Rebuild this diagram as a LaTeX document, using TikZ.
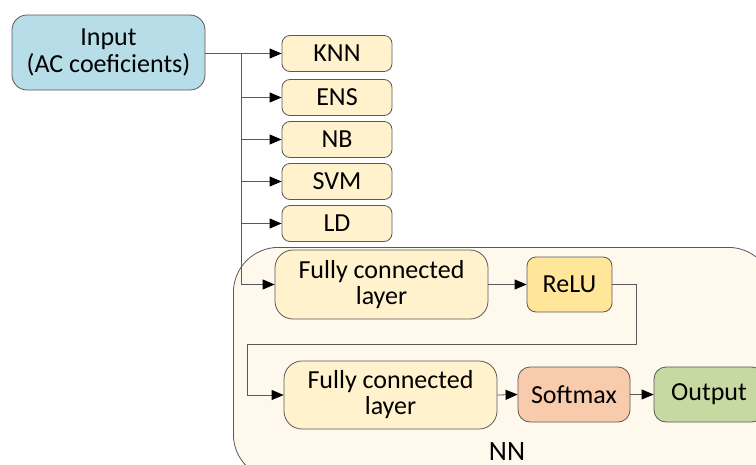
\documentclass[tikz,border=0pt]{standalone}
\usepackage{fontspec}
\setmainfont{Carlito}
\usetikzlibrary{arrows.meta}
\definecolor{inblue}{HTML}{B7DDE8}
\definecolor{clsfill}{HTML}{FFF2CC}
\definecolor{relufill}{HTML}{FFE699}
\definecolor{softfill}{HTML}{F8CBAD}
\definecolor{outfill}{HTML}{C5D9A0}
\definecolor{nnfill}{HTML}{FFF8EC}
\definecolor{edgegray}{HTML}{595959}
\tikzset{
  box/.style={draw=edgegray, line width=0.8pt, inner sep=0pt, align=center,
    font=\fontsize{26}{31}\selectfont, text=black},
  cls/.style={box, fill=clsfill, rounded corners=8pt, minimum width=110pt, minimum height=36pt},
  conn/.style={draw=edgegray, line width=0.8pt},
  arr/.style={conn, -{Triangle[length=12pt,width=10pt,fill=black,color=black]}},
}
\begin{document}
\begin{tikzpicture}[x=1pt,y=-1pt]
\useasboundingbox (0,0) rectangle (756,464);
\clip (0,0) rectangle (756,464);
% NN container
\node[draw=edgegray, line width=0.8pt, fill=nnfill, rounded corners=45pt,
  minimum width=540pt, minimum height=232pt, inner sep=0pt, anchor=north west]
  (nn) at (233,247) {};
\node[font=\fontsize{28}{32}\selectfont, anchor=base, inner sep=0pt] (nnlabel) at (507,460) {NN};
% input
\node[box, fill=inblue, rounded corners=15pt, minimum width=193pt, minimum height=75pt]
  (input) at (108.5,52.5) {Input\\[-4pt](AC coeficients)};
% classifiers
\node[cls] (knn) at (337,53.5) {KNN};
\node[cls] (ens) at (337,97.5) {ENS};
\node[cls] (nb) at (337,139.5) {NB};
\node[cls] (svm) at (337,181.5) {SVM};
\node[cls] (ld) at (337,223.5) {LD};
% NN layers
\node[box, fill=clsfill, rounded corners=18pt, minimum width=213pt, minimum height=69pt]
  (fc1) at (381.5,284.5) {Fully connected\\[-5pt]layer};
\node[box, fill=relufill, rounded corners=9pt, minimum width=85pt, minimum height=55pt]
  (relu) at (569.5,284.5) {ReLU};
\node[box, fill=clsfill, rounded corners=18pt, minimum width=213pt, minimum height=68pt]
  (fc2) at (390.5,395) {Fully connected\\[-5pt]layer};
\node[box, fill=softfill, rounded corners=12pt, minimum width=112pt, minimum height=55pt]
  (soft) at (574,394.5) {Softmax};
\node[box, fill=outfill, rounded corners=12pt, minimum width=110pt, minimum height=55pt]
  (out) at (709,394.5) {Output};
% connectors
\coordinate (trunk) at (241,53.5);
\coordinate (bendA) at (636,344);
\coordinate (bendB) at (247,344);
\draw[arr] (input.east |- knn.west) -- (knn.west);
\draw[arr] (trunk) |- (ens.west);
\draw[arr] (trunk) |- (nb.west);
\draw[arr] (trunk) |- (svm.west);
\draw[arr] (trunk) |- (ld.west);
\draw[arr] (trunk) |- (fc1.west);
\draw[arr] (fc1.east) -- (relu.west);
\draw[arr] (relu.east) -| (bendA) -- (bendB) |- (fc2.west);
\draw[arr] (fc2.east) -- (soft.west);
\draw[arr] (soft.east) -- (out.west);
\end{tikzpicture}
\end{document}
